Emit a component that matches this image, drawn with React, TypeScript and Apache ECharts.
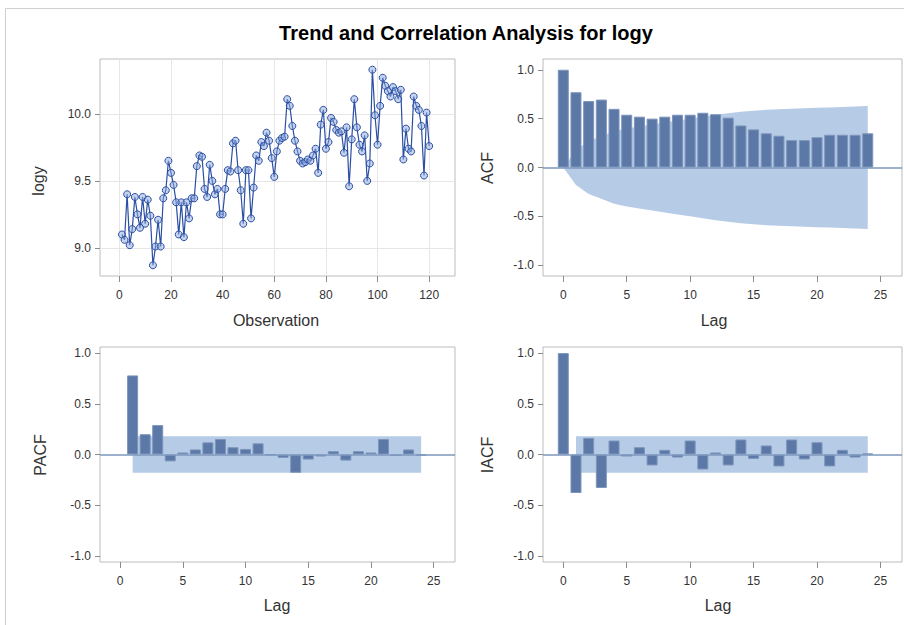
import React, { useEffect, useRef } from "react";
import * as echarts from "echarts";

const TITLE = "Trend and Correlation Analysis for logy";

const obsValues = [
  9.10, 9.06, 9.40, 9.02, 9.14, 9.38, 9.25, 9.15, 9.38, 9.18,
  9.36, 9.24, 8.87, 9.01, 9.21, 9.01, 9.37, 9.43, 9.65, 9.56,
  9.47, 9.34, 9.10, 9.34, 9.08, 9.34, 9.22, 9.37, 9.37, 9.61,
  9.69, 9.68, 9.44, 9.38, 9.62, 9.50, 9.40, 9.44, 9.25, 9.25,
  9.44, 9.58, 9.57, 9.78, 9.80, 9.58, 9.43, 9.18, 9.58, 9.58,
  9.22, 9.45, 9.69, 9.65, 9.79, 9.76, 9.86, 9.80, 9.67, 9.53,
  9.72, 9.80, 9.82, 9.83, 10.11, 10.06, 9.91, 9.80, 9.72, 9.65,
  9.63, 9.64, 9.66, 9.65, 9.69, 9.74, 9.56, 9.92, 10.03, 9.74,
  9.79, 9.97, 9.94, 9.88, 9.86, 9.87, 9.71, 9.90, 9.46, 9.81,
  10.11, 9.90, 9.77, 9.72, 9.84, 9.50, 9.63, 10.33, 9.99, 9.77,
  10.06, 10.27, 10.21, 10.17, 10.13, 10.20, 10.17, 10.11, 10.18, 9.66,
  9.89, 9.74, 9.72, 10.13, 10.06, 10.03, 9.91, 9.54, 10.01, 9.76,
];

const acfLags = [0, 1, 2, 3, 4, 5, 6, 7, 8, 9, 10, 11, 12, 13, 14, 15, 16, 17, 18, 19, 20, 21, 22, 23, 24];
const acfValues = [
  1.0, 0.77, 0.68, 0.695, 0.60, 0.54, 0.52, 0.50, 0.52, 0.54, 0.54, 0.56, 0.545,
  0.51, 0.43, 0.39, 0.35, 0.325, 0.28, 0.28, 0.31, 0.335, 0.335, 0.335, 0.35,
];
const acfBand = [
  0.0, 0.18, 0.27, 0.32, 0.37, 0.40, 0.42, 0.44, 0.46, 0.48, 0.50, 0.52, 0.54,
  0.555, 0.57, 0.58, 0.59, 0.595, 0.60, 0.605, 0.61, 0.615, 0.62, 0.625, 0.63,
];

const pacfLags = [1, 2, 3, 4, 5, 6, 7, 8, 9, 10, 11, 12, 13, 14, 15, 16, 17, 18, 19, 20, 21, 22, 23, 24];
const pacfValues = [
  0.78, 0.20, 0.29, -0.068, 0.02, 0.05, 0.12, 0.153, 0.072, 0.055, 0.11, -0.005,
  -0.033, -0.18, -0.05, -0.02, 0.033, -0.06, 0.033, 0.02, 0.153, -0.013, 0.05, -0.01,
];
const pacfBand = [
  0.18, 0.18, 0.18, 0.18, 0.18, 0.18, 0.18, 0.18, 0.18, 0.18, 0.18, 0.18,
  0.18, 0.18, 0.18, 0.18, 0.18, 0.18, 0.18, 0.18, 0.18, 0.18, 0.18, 0.18,
];

const iacfLags = [0, 1, 2, 3, 4, 5, 6, 7, 8, 9, 10, 11, 12, 13, 14, 15, 16, 17, 18, 19, 20, 21, 22, 23, 24];
const iacfValues = [
  1.0, -0.38, 0.164, -0.33, 0.138, -0.02, 0.072, -0.108, 0.046, -0.03, 0.138, -0.148,
  0.02, -0.108, 0.148, -0.043, 0.089, -0.118, 0.148, -0.049, 0.121, -0.118, 0.046, -0.03, 0.01,
];
const iacfBandLags = [1, 2, 3, 4, 5, 6, 7, 8, 9, 10, 11, 12, 13, 14, 15, 16, 17, 18, 19, 20, 21, 22, 23, 24];
const iacfBand = [
  0.18, 0.18, 0.18, 0.18, 0.18, 0.18, 0.18, 0.18, 0.18, 0.18, 0.18, 0.18,
  0.18, 0.18, 0.18, 0.18, 0.18, 0.18, 0.18, 0.18, 0.18, 0.18, 0.18, 0.18,
];

const obsTicks = [0, 20, 40, 60, 80, 100, 120];
const lagTicks = [0, 5, 10, 15, 20, 25];
const logyTicks = [9.0, 9.5, 10.0];
const corrTicks = [-1.0, -0.5, 0.0, 0.5, 1.0];

const FONT = "'Liberation Sans', Arial, Helvetica, sans-serif";
const LINE = "#2a4ea3";
const BAR = "#5b78a6";
const BAR_EDGE = "#7d95bc";
const BAND = "#b6cbe6";
const ZERO = "#7d97bd";

export default function App() {
  const ref = useRef<HTMLDivElement>(null);

  useEffect(() => {
    if (!ref.current) return;
    const chart = echarts.init(ref.current, null, { renderer: "svg" });

    const gridBase = { show: true, borderColor: "#bcbcbc", borderWidth: 1, backgroundColor: "#ffffff", containLabel: false };
    const grids = [
      { left: 100, top: 59, width: 355, height: 217 },
      { left: 543, top: 59, width: 359, height: 217 },
      { left: 100, top: 347, width: 355, height: 215 },
      { left: 543, top: 347, width: 359, height: 215 },
    ].map((g) => ({ ...gridBase, ...g }));

    const labelBase = { color: "#333333", fontSize: 12, fontFamily: FONT };
    const tickBase = { show: true, length: 6, lineStyle: { color: "#8c8c8c", width: 1 } };

    const makeX = (idx: number, min: number, max: number, ticks: number[], split: boolean) => ({
      type: "value",
      gridIndex: idx,
      min,
      max,
      axisLine: { show: false, onZero: false },
      axisTick: { ...tickBase, customValues: ticks },
      axisLabel: { ...labelBase, margin: 13, customValues: ticks, formatter: (v: number) => String(v) },
      splitLine: { show: split, lineStyle: { color: "#e6e6e6", width: 1 } },
    });
    const makeY = (idx: number, min: number, max: number, ticks: number[], split: boolean) => ({
      type: "value",
      gridIndex: idx,
      min,
      max,
      axisLine: { show: false, onZero: false },
      axisTick: { ...tickBase, length: 5, customValues: ticks },
      axisLabel: { ...labelBase, margin: 9, customValues: ticks, formatter: (v: number) => v.toFixed(1) },
      splitLine: { show: split, lineStyle: { color: "#e6e6e6", width: 1 } },
    });

    const zeroLine = {
      silent: true,
      symbol: ["none", "none"],
      label: { show: false },
      lineStyle: { color: ZERO, width: 1.5, type: "solid" },
      data: [{ yAxis: 0 }],
    };

    const bandSeries = (idx: number, lags: number[], band: number[], sign: number) => ({
      type: "line",
      xAxisIndex: idx,
      yAxisIndex: idx,
      data: lags.map((l, i) => [l, sign * band[i]]),
      symbol: "none",
      silent: true,
      lineStyle: { width: 0, color: BAND },
      areaStyle: { color: BAND, opacity: 1 },
      z: 1,
    });

    const barSeries = (idx: number, lags: number[], vals: number[]) => ({
      type: "bar",
      xAxisIndex: idx,
      yAxisIndex: idx,
      data: lags.map((l, i) => [l, vals[i]]),
      barWidth: 11,
      itemStyle: { color: BAR, borderColor: BAR_EDGE, borderWidth: 1 },
      z: 2,
      markLine: zeroLine,
    });

    const axisTitle = (text: string, x: number, y: number, vertical: boolean) => ({
      type: "text",
      x,
      y,
      rotation: vertical ? Math.PI / 2 : 0,
      style: {
        text,
        fill: "#333333",
        font: `16px ${FONT}`,
        textAlign: "center",
        textVerticalAlign: "middle",
      },
    });

    chart.setOption({
      animation: false,
      backgroundColor: "#ffffff",
      grid: grids,
      xAxis: [
        makeX(0, -7.5, 130, obsTicks, true),
        makeX(1, -1.6, 26.7, lagTicks, false),
        makeX(2, -1.6, 26.7, lagTicks, false),
        makeX(3, -1.6, 26.7, lagTicks, false),
      ],
      yAxis: [
        makeY(0, 8.79, 10.41, logyTicks, true),
        makeY(1, -1.11, 1.11, corrTicks, false),
        makeY(2, -1.06, 1.06, corrTicks, false),
        makeY(3, -1.06, 1.06, corrTicks, false),
      ],
      series: [
        {
          type: "line",
          xAxisIndex: 0,
          yAxisIndex: 0,
          data: obsValues.map((v, i) => [i + 1, v]),
          symbol: "circle",
          symbolSize: 7,
          showSymbol: true,
          showAllSymbol: true,
          lineStyle: { color: LINE, width: 1.2 },
          itemStyle: { color: "rgba(140,168,222,0.5)", borderColor: LINE, borderWidth: 1 },
          z: 3,
        },
        bandSeries(1, acfLags, acfBand, 1),
        bandSeries(1, acfLags, acfBand, -1),
        barSeries(1, acfLags, acfValues),
        bandSeries(2, pacfLags, pacfBand, 1),
        bandSeries(2, pacfLags, pacfBand, -1),
        barSeries(2, pacfLags, pacfValues),
        bandSeries(3, iacfBandLags, iacfBand, 1),
        bandSeries(3, iacfBandLags, iacfBand, -1),
        barSeries(3, iacfLags, iacfValues),
      ],
      graphic: [
        {
          type: "rect",
          shape: { x: 5.5, y: 8.5, width: 1200, height: 1200 },
          style: { fill: "none", stroke: "#cfcfcf", lineWidth: 1 },
          silent: true,
          z: -10,
        },
        {
          type: "text",
          x: 466,
          y: 33,
          style: {
            text: TITLE,
            fill: "#000000",
            font: `bold 20px ${FONT}`,
            textAlign: "center",
            textVerticalAlign: "middle",
          },
        },
        axisTitle("logy", 38, 181, true),
        axisTitle("ACF", 487, 168, true),
        axisTitle("PACF", 40, 455, true),
        axisTitle("IACF", 487, 455, true),
        axisTitle("Observation", 276, 320, false),
        axisTitle("Lag", 714, 320, false),
        axisTitle("Lag", 277, 605, false),
        axisTitle("Lag", 718, 605, false),
      ],
    });

    return () => {
      chart.dispose();
    };
  }, []);

  return (
    <div
      ref={ref}
      style={{ position: "absolute", left: 0, top: 0, width: 904, height: 625 }}
    />
  );
}
